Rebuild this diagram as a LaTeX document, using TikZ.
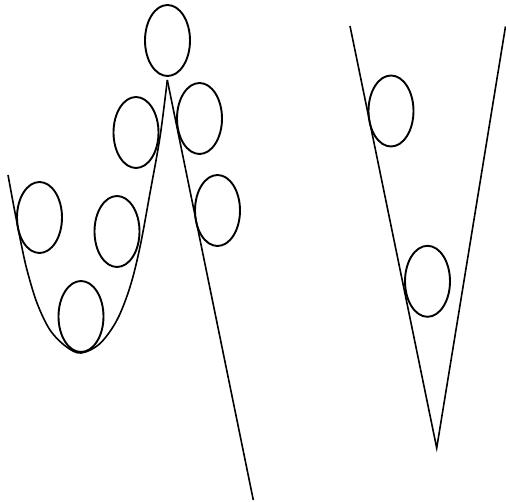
\documentclass[tikz,border=0pt]{standalone}
\usetikzlibrary{shapes.geometric}
\begin{document}
\begin{tikzpicture}[x=1pt,y=-1pt,
  ball/.style={draw=black,line width=1.9pt,ellipse,minimum width=45pt,minimum height=71pt,inner sep=0pt},
  wire/.style={draw=black,line width=1.6pt,line join=miter}]
\useasboundingbox (0,0) rectangle (506,502);
% left shape
\coordinate (peak) at (167.3,80);
\coordinate (lend) at (253.3,500);
\draw[wire] plot[smooth,tension=0.55] coordinates {(8,175) (14.5,210) (21,243) (27,270) (37,303) (50,330) (66,346.5) (81,353) (100,343.5) (117,320) (130,287) (140,247) (150,193) (160,137) (167.3,80)};
\draw[wire] (peak) -- (lend);
\node[ball] (b1) at (167.5,40.5) {};
\node[ball] (b2) at (136,132.5) {};
\node[ball] (b3) at (199.5,118.5) {};
\node[ball] (b4) at (39.5,217.5) {};
\node[ball] (b5) at (117,231.5) {};
\node[ball] (b6) at (217.5,210.5) {};
\node[ball] (b7) at (81,316.5) {};
% right shape
\coordinate (vl) at (350,26);
\coordinate (vb) at (436.7,448);
\coordinate (vr) at (505.5,26.5);
\draw[wire] (vl) -- (vb) -- (vr);
\node[ball] (c1) at (391,111) {};
\node[ball] (c2) at (427.5,281.3) {};
\end{tikzpicture}
\end{document}
